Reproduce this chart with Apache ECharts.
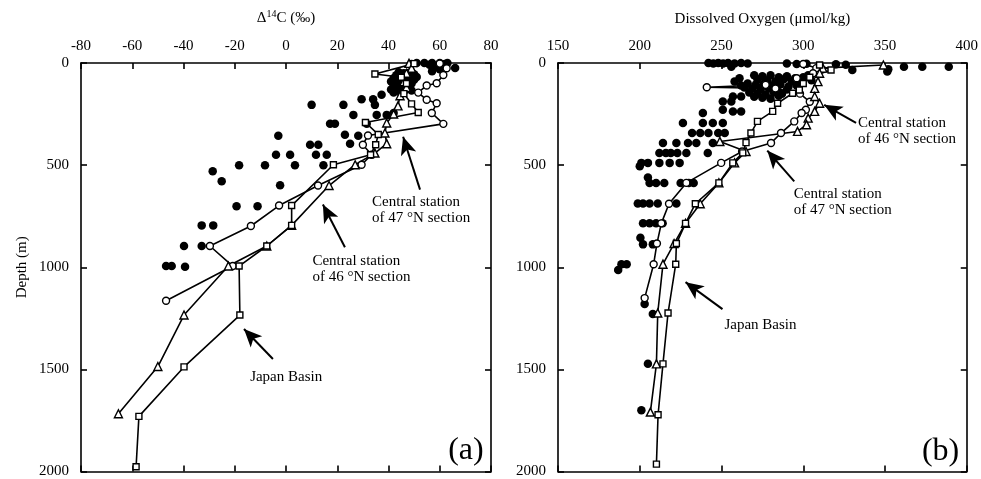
<!DOCTYPE html>
<html><head><meta charset="utf-8">
<script src="https://cdn.jsdelivr.net/npm/echarts/dist/echarts.min.js"></script>
<style>html,body{margin:0;padding:0;background:#fff}#c{width:981px;height:479px}</style>
</head><body><div id="c"></div>
<script>
const FONT = '"Liberation Serif","Times New Roman",serif';

// ---------- Panel (a): Δ14C (‰) vs depth (m) ----------
const c14Ticks = {min: -80, max: 80, step: 20};
const depthTicks = {min: 0, max: 2000, step: 500};
const c14Dots = [
  [51,0],[54,0],[57,0],[60,0],[63,0],[62,5],[66,24],[56,8],[49,5],[58,20],[60,30],[57,40],
  [44,45],[46,50],[48,48],[50,55],[43,60],[45,65],[47,62],[49,70],[51,68],[42,75],[44,80],[46,78],
  [48,85],[50,82],[41,90],[43,95],[45,92],[47,98],[49,100],[42,105],[44,110],[46,108],[48,115],
  [43,120],[45,125],[47,122],[41,130],[44,135],[46,140],[49,135],[42,145],[45,150],
  [37.3,156],[34.7,205],[29.5,177],[34,177],[10,205],[22.4,205],[26.3,254],[35.4,254],[39.3,254],[42,245],
  [17.2,298],[19.1,298],[31.5,298],[-3,356],[23,351],[28.2,356],[9.4,400],[12.6,400],[25,395],
  [-3.9,449],[1.6,449],[11.7,449],[15.9,449],[-28.6,530],[-25.1,579],[-18.3,501],[-8.2,501],[3.5,501],[14.6,501],
  [-2.3,598],[-19.3,701],[-11.1,701],[-32.9,795],[-28.4,795],[-39.8,896],[-32.9,896],[-46.8,994],[-44.6,994],[-39.4,998]
];
const c14Station47 = [
  [60,3],[62.7,26],[61.4,59],[58.8,99],[54.9,110],[51.6,145],[54.9,180],[58.8,197],[56.9,245],[61.4,298],
  [32,355],[30,400],[33.4,449],[29.5,498],[12.5,600],[-2.7,698],[-13.7,798],[-29.7,896],[-20.8,994],[-46.8,1164]
];
const c14Station46 = [
  [48,2],[49,25],[47,50],[46,91],[47,120],[44.5,160],[43.7,210],[42,250],[39.3,294],[38.6,343],[39.3,395],
  [34.7,441],[27,498],[16.8,600],[2.2,795],[-7.5,896],[-22.5,994],[-39.8,1234],[-50,1486],[-65.4,1717]
];
const c14JapanBasin = [
  [50,3],[34.7,54],[45,70],[47,100],[46,150],[49,200],[51.6,242],[31,291],[36,350],[35,400],[33,449],
  [18.5,498],[2.2,698],[2.2,795],[-7.5,896],[-18.3,994],[-18,1234],[-39.8,1488],[-57.4,1730],[-58.5,1977]
];

// ---------- Panel (b): Dissolved oxygen (µmol/kg) vs depth (m) ----------
const o2Ticks = {min: 150, max: 400, step: 50};
const o2Dots = [
  [242,0],[245,2],[248,0],[251,2],[254,0],[258,2],[262,0],[266,2],[290,3],[296,5],[302,4],[320,6],[326,8],
  [256,18],[361.6,18],[372.8,18],[389,18],[330,34],[351.4,42],[352,30],
  [270,60],[275,65],[280,60],[285,70],[290,65],[295,75],[300,70],[272,80],[278,85],[283,90],[288,80],
  [293,90],[298,95],[266,100],[271,105],[276,100],[281,110],[286,105],[291,115],[264,120],[269,125],
  [274,130],[279,125],[284,135],[267,145],[272,150],[277,155],[282,145],[270,165],[275,170],[280,175],
  [285,160],[261,75],[258,90],[262,110],[303,60],[305,85],[296,110],[290,130],[287,150],
  [257,164],[262,164],[250.8,189],[256,189],[250.8,229],[238.6,245],[257,238],[262,238],
  [226.4,294],[238.6,294],[244.7,294],[250.8,294],
  [232,343],[237,343],[242,343],[248,343],[252,343],
  [214.2,392],[222.4,392],[229.5,392],[234.6,392],[244.7,392],
  [212,441],[216,441],[219,441],[223,441],[228.5,441],[241.6,441],
  [201,489],[205,489],[212,489],[218.3,489],[224.4,489],[200,506],
  [205,561],[206,587],[210,587],[215,587],[225,587],[230,587],[233,587],
  [198.8,688],[202,688],[206,688],[211,688],[222.4,688],
  [202,785],[206,785],[210,785],[214,785],
  [200.4,855],[202,888],[208,888],
  [188.8,985],[192,985],[186.8,1013],
  [203,1180],[208,1229],[205,1473],[201,1700]
];
const o2Station46 = [
  [349,10],[312,25],[310,50],[309,91],[307,124],[307,164],[310,197],[307,237],[303,270],[302,302],[296.5,335],
  [249,384],[265,433],[258,489],[248.4,587],[237,689],[228,785],[221,884],[214.2,985],[211,1224],[210.2,1473],[206.5,1709]
];
const o2Station47 = [
  [300,5],[308,25],[306,50],[296,75],[277,107],[241,119],[283,125],[298,150],[304,190],[301.6,229],[299,245],
  [294.5,286],[286.4,343],[280.3,392],[262.6,433],[249.8,489],[228.5,587],[217.9,689],[213.2,785],[210.5,884],
  [208.5,985],[203,1151]
];
const o2JapanBasin = [
  [310,10],[317,34],[304,70],[300,100],[297.6,132],[293.5,148],[284.3,197],[281.3,237],[272,286],[268,343],
  [265,390],[263,440],[256.9,489],[248.4,587],[234,689],[228,785],[222.4,884],[222,985],[217.3,1224],
  [214.2,1473],[211.2,1722],[210.2,1964]
];

// ---------- Annotations (data coordinates) ----------
const notes = [
  {panel:0, text:'Central station\nof 47 °N section', at:[33.6,722], from:[52.3,620], to:[45.7,361]},
  {panel:0, text:'Central station\nof 46 °N section', at:[10.3,1007], from:[23,902], to:[14.4,693]},
  {panel:0, text:'Japan Basin', at:[-14,1537], from:[-5.1,1449], to:[-16.4,1302]},
  {panel:1, text:'Central station\nof 46 °N section', at:[333.5,334], from:[332.3,293], to:[312.8,205]},
  {panel:1, text:'Central station\nof 47 °N section', at:[294.2,680], from:[294.5,580], to:[278,429]},
  {panel:1, text:'Japan Basin', at:[251.8,1283], from:[250.6,1205], to:[228,1073]}
];
const panelTags = [{panel:0, text:'(a)', at:[70.2,1898]}, {panel:1, text:'(b)', at:[384,1902]}];

const chart = echarts.init(document.getElementById('c'), null, {renderer:'canvas'});
const black = '#000';
const lbl = {fontFamily: FONT, fontSize: 15, color: black};

function xAx(grid, t, pos, withLabels, name) {
  const a = {
    gridIndex: grid, type: 'value', min: t.min, max: t.max, interval: t.step, position: pos,
    axisLine: {show: true, onZero: false, lineStyle: {color: black, width: 1.6}},
    axisTick: {show: true, inside: true, length: 6, lineStyle: {color: black, width: 1.6}},
    axisLabel: withLabels ? Object.assign({margin: 9, formatter: v => String(v)}, lbl) : {show: false},
    splitLine: {show: false}
  };
  if (name) Object.assign(a, name);
  return a;
}
function yAx(grid, pos, withLabels, name) {
  const a = {
    gridIndex: grid, type: 'value', inverse: true, min: depthTicks.min, max: depthTicks.max,
    interval: depthTicks.step, position: pos,
    axisLine: {show: true, onZero: false, lineStyle: {color: black, width: 1.6}},
    axisTick: {show: true, inside: true, length: 6, lineStyle: {color: black, width: 1.6}},
    axisLabel: withLabels ? Object.assign({margin: 12, formatter: v => String(v)}, lbl) : {show: false},
    splitLine: {show: false}
  };
  if (name) Object.assign(a, name);
  return a;
}

function dotSeries(data, xi, yi) {
  return {type: 'scatter', data, xAxisIndex: xi, yAxisIndex: yi, symbol: 'circle', symbolSize: 8.5,
    itemStyle: {color: black, opacity: 1}, z: 2, silent: true};
}
function profile(data, xi, yi, sym, size) {
  return {type: 'line', data, xAxisIndex: xi, yAxisIndex: yi, symbol: sym, symbolSize: size,
    showAllSymbol: true, lineStyle: {color: black, width: 1.6},
    itemStyle: {color: '#fff', borderColor: black, borderWidth: 1.4, opacity: 1}, z: 3, silent: true};
}
function arrows(panel) {
  return notes.filter(n => n.panel === panel).map(n => [{coord: n.from}, {coord: n.to}]);
}

const series = [
  dotSeries(c14Dots, 0, 0),
  profile(c14Station47, 0, 0, 'circle', 7),
  profile(c14Station46, 0, 0, 'triangle', 8),
  Object.assign(profile(c14JapanBasin, 0, 0, 'rect', 6), {
    markLine: {silent: true, symbol: ['none', 'arrow'], symbolSize: [12, 18], animation: false,
      label: {show: false}, lineStyle: {color: black, width: 2, type: 'solid'}, data: arrows(0)}
  }),
  dotSeries(o2Dots, 2, 2),
  profile(o2Station47, 2, 2, 'circle', 7),
  profile(o2Station46, 2, 2, 'triangle', 8),
  Object.assign(profile(o2JapanBasin, 2, 2, 'rect', 6), {
    markLine: {silent: true, symbol: ['none', 'arrow'], symbolSize: [12, 18], animation: false,
      label: {show: false}, lineStyle: {color: black, width: 2, type: 'solid'}, data: arrows(1)}
  })
];

chart.setOption({
  animation: false,
  backgroundColor: '#fff',
  grid: [
    {left: 81, top: 63, width: 410, height: 410},
    {left: 558, top: 63, width: 410, height: 410}
  ],
  xAxis: [
    xAx(0, c14Ticks, 'top', true, {
      name: '{a|Δ}{s|14}{a|C (‰)}', nameLocation: 'middle', nameGap: 36,
      nameTextStyle: {rich: {
        a: {fontFamily: FONT, fontSize: 15, color: black, lineHeight: 18},
        s: {fontFamily: FONT, fontSize: 10, color: black, lineHeight: 18, verticalAlign: 'top', padding: [0, 0, 7, 0]}
      }}
    }),
    xAx(0, c14Ticks, 'bottom', false),
    xAx(1, o2Ticks, 'top', true, {
      name: 'Dissolved Oxygen (μmol/kg)', nameLocation: 'middle', nameGap: 36,
      nameTextStyle: {fontFamily: FONT, fontSize: 15, color: black}
    }),
    xAx(1, o2Ticks, 'bottom', false)
  ],
  yAxis: [
    yAx(0, 'left', true, {
      name: 'Depth (m)', nameLocation: 'middle', nameGap: 51, nameRotate: 90,
      nameTextStyle: {fontFamily: FONT, fontSize: 15, color: black}
    }),
    yAx(0, 'right', false),
    yAx(1, 'left', true),
    yAx(1, 'right', false)
  ],
  series
});

const graphics = [];
notes.forEach(n => {
  const p = chart.convertToPixel({xAxisIndex: n.panel * 2, yAxisIndex: n.panel * 2}, n.at);
  graphics.push({type: 'text', x: p[0], y: p[1], silent: true, z: 10,
    style: {text: n.text, font: '15px ' + FONT, fill: black, align: 'left', verticalAlign: 'middle', lineHeight: 16}});
});
panelTags.forEach(n => {
  const p = chart.convertToPixel({xAxisIndex: n.panel * 2, yAxisIndex: n.panel * 2}, n.at);
  graphics.push({type: 'text', x: p[0], y: p[1], silent: true, z: 10,
    style: {text: n.text, font: '32px ' + FONT, fill: black, align: 'center', verticalAlign: 'middle'}});
});
chart.setOption({graphic: graphics});
</script>
</body></html>
